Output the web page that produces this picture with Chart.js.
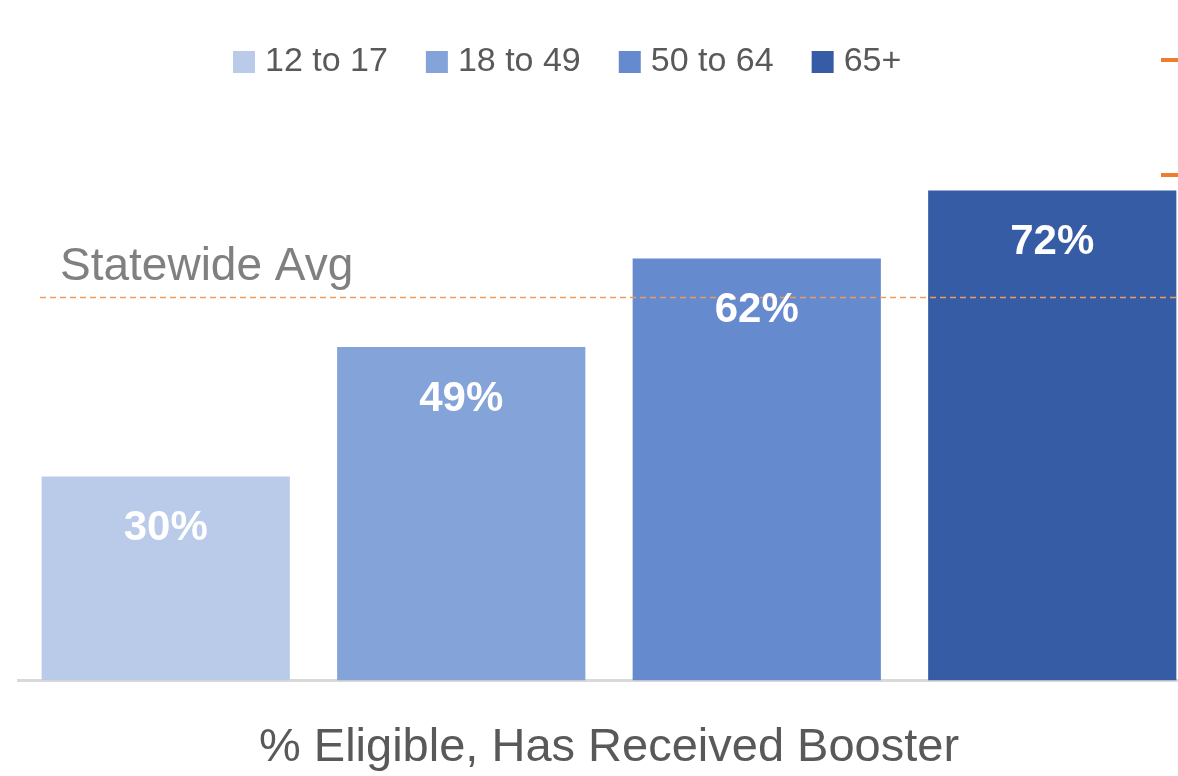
<!DOCTYPE html>
<html lang="en">
<head>
    <meta charset="UTF-8">
    <title>Booster by Age Group</title>
    <script src="https://cdn.jsdelivr.net/npm/chart.js"></script>
    <style>
        html, body {
            margin: 0;
            padding: 0;
            background: #ffffff;
            overflow: hidden;
            width: 1178px;
            height: 776px;
        }
        .chart-wrapper {
            position: absolute;
            left: 0;
            top: 0;
            width: 1200px;
            height: 776px;
        }
    </style>
</head>
<body>
    <div class="chart-wrapper">
        <canvas id="boosterChart" width="1200" height="776" style="width:1200px;height:776px"></canvas>
    </div>
    <script>
        // values
        const ageGroups = ['12 to 17', '18 to 49', '50 to 64', '65+'];
        const boosterPct = [30, 49, 62, 72];
        const statewideAvg = 56.3;
        const barColors = ['#BACBE9', '#84A3D8', '#668ACE', '#365CA5'];
        const axisTitle = '% Eligible, Has Received Booster';
        const avgLabel = 'Statewide Avg';

        const FONT = '"Liberation Sans", Arial, sans-serif';

        // one dataset per age group, like the spreadsheet it came from
        const datasets = ageGroups.map((g, i) => ({
            label: g,
            data: [boosterPct[i]],
            backgroundColor: barColors[i],
            borderWidth: 0
        }));

        const overlayPlugin = {
            id: 'overlay',
            afterDatasetsDraw(chart) {
                const ctx = chart.ctx;
                const yScale = chart.scales.y;

                // statewide average dashed line + label
                const yAvg = Math.round(yScale.getPixelForValue(statewideAvg)) + 0.5;
                ctx.save();
                ctx.strokeStyle = '#F19A5E';
                ctx.lineWidth = 1.4;
                ctx.setLineDash([6, 4]);
                ctx.beginPath();
                ctx.moveTo(40, yAvg);
                ctx.lineTo(chart.width, yAvg);
                ctx.stroke();
                ctx.setLineDash([]);
                ctx.fillStyle = '#808080';
                ctx.font = '46px ' + FONT;
                ctx.textAlign = 'left';
                ctx.textBaseline = 'alphabetic';
                ctx.fillText(avgLabel, 60, yAvg - 18);

                // value labels inside the bars
                ctx.fillStyle = '#ffffff';
                ctx.font = 'bold 42px ' + FONT;
                ctx.textAlign = 'center';
                ctx.textBaseline = 'middle';
                chart.data.datasets.forEach((ds, i) => {
                    const bar = chart.getDatasetMeta(i).data[0];
                    ctx.fillText(ds.data[0] + '%', bar.x, bar.y + 52);
                });

                // legend (Excel puts it off-centre, so it is drawn by hand)
                ctx.font = '34px ' + FONT;
                ctx.textAlign = 'left';
                ctx.textBaseline = 'middle';
                let x = 233;
                chart.data.datasets.forEach((ds) => {
                    ctx.fillStyle = ds.backgroundColor;
                    ctx.fillRect(x, 51, 22, 22);
                    x += 32;
                    ctx.fillStyle = '#595959';
                    ctx.fillText(ds.label, x, 62);
                    x += ctx.measureText(ds.label).width + 38;
                });

                // bits of the neighbouring chart peeking in at the right edge
                ctx.strokeStyle = '#ED7D31';
                ctx.lineWidth = 4;
                [60, 175].forEach(y => {
                    ctx.beginPath();
                    ctx.moveTo(1161, y);
                    ctx.lineTo(1178, y);
                    ctx.stroke();
                });
                ctx.restore();
            }
        };

        const ctx = document.getElementById('boosterChart').getContext('2d');
        new Chart(ctx, {
            type: 'bar',
            data: {
                labels: [''],
                datasets: datasets
            },
            options: {
                responsive: false,
                animation: false,
                layout: { padding: { left: 18, right: 0, top: 102, bottom: 0 } },
                plugins: {
                    legend: { display: false },
                    tooltip: { enabled: false }
                },
                datasets: {
                    bar: { categoryPercentage: 1.0, barPercentage: 0.84 }
                },
                scales: {
                    x: {
                        grid: { display: false },
                        ticks: { display: false },
                        border: { display: true, color: '#D9D9D9', width: 3 },
                        title: {
                            display: true,
                            text: axisTitle,
                            color: '#595959',
                            font: { family: FONT, size: 47 },
                            padding: { top: 31, bottom: 0 }
                        }
                    },
                    y: { display: false, min: 0, max: 85 }
                }
            },
            plugins: [overlayPlugin]
        });
    </script>
</body>
</html>
